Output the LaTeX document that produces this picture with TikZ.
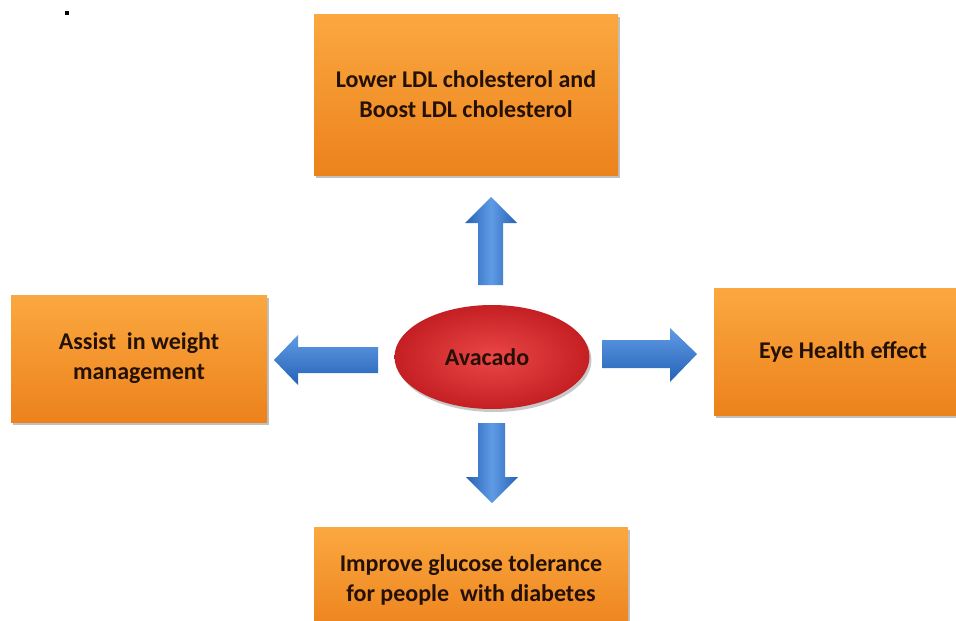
\documentclass[tikz,border=0pt]{standalone}
\usepackage{fontspec}
\setmainfont{Carlito}
\usetikzlibrary{shadows,shapes.geometric}
\definecolor{boxtop}{RGB}{251,168,64}
\definecolor{boxbot}{RGB}{236,130,28}
\definecolor{txt}{RGB}{36,16,4}
\definecolor{arrowlight}{RGB}{95,155,228}
\definecolor{arrowdark}{RGB}{38,98,182}
\definecolor{ellin}{RGB}{236,70,70}
\definecolor{ellout}{RGB}{196,32,36}
\begin{document}
\begin{tikzpicture}[x=1pt,y=-1pt,
  box/.style={rectangle, top color=boxtop, bottom color=boxbot, draw=none,
    drop shadow={shadow xshift=2pt, shadow yshift=-3pt, opacity=0.35, fill=black!70},
    text=txt, font=\fontsize{24}{30}\selectfont\bfseries, align=center, inner sep=0pt},
  hub/.style={ellipse, inner color=ellin, outer color=ellout, draw=none,
    drop shadow={shadow xshift=2pt, shadow yshift=-3pt, opacity=0.3, fill=black!70},
    text=txt, font=\fontsize{24}{28}\selectfont\bfseries, inner sep=0pt},
  hblock/.style={top color=arrowlight, bottom color=arrowdark, draw=none},
  vblock/.style={left color=arrowdark, right color=arrowdark, middle color=arrowlight, draw=none}
]
\useasboundingbox (0,0) rectangle (956,621);
\fill[white] (0,0) rectangle (956,621);
\clip (0,0) rectangle (956,621);

% small dot
\fill[black] (65,11) rectangle (69,15);

% boxes
\node[box, minimum width=304pt, minimum height=161pt] (top) at (466,94.5)
  {\raisebox{-3pt}{Lower LDL cholesterol and}\\\raisebox{-3pt}{Boost LDL cholesterol}};
\node[box, minimum width=256pt, minimum height=127pt] (left) at (139,358.5)
  {Assist\ \ in weight\\management};
\node[box, minimum width=258pt, minimum height=127pt] (right) at (843,351.5)
  {Eye Health effect};
\node[box, minimum width=314pt, minimum height=106pt] (bottom) at (471,580)
  {Improve glucose tolerance\\for people\ \ with diabetes};

% hub
\node[hub, minimum width=195pt, minimum height=104pt] (hubnode) at (492,357)
  {\hspace*{-10pt}\raisebox{-2pt}{Avacado}};

% block arrows
\path[vblock] (478,285) -- (478,223) -- (465,223) -- (491,197) -- (517,223)
  -- (503,223) -- (503,285) -- cycle;
\path[vblock] (478,423) -- (478,477) -- (466,477) -- (492,503) -- (518,477)
  -- (505,477) -- (505,423) -- cycle;
\path[hblock] (378,347) -- (298,347) -- (298,335) -- (274,360) -- (298,385)
  -- (298,373) -- (378,373) -- cycle;
\path[hblock] (602,340) -- (670,340) -- (670,328) -- (697,354) -- (670,382)
  -- (670,368) -- (602,368) -- cycle;
\end{tikzpicture}
\end{document}
